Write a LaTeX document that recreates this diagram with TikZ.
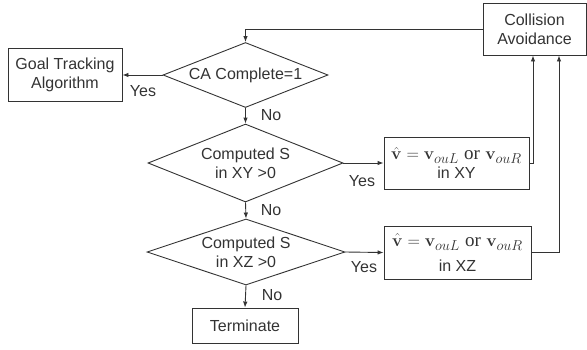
\documentclass[tikz,border=0pt]{standalone}
\usepackage[no-math]{fontspec}
\setmainfont{Liberation Sans}
\newfontfamily\orfont{Liberation Serif}
\usetikzlibrary{shapes.geometric,arrows.meta}
\definecolor{ink}{HTML}{333333}
\newcommand{\vsel}{{\fontsize{19}{21}\selectfont$\hat{\mathbf v}=\mathbf v_{ouL}$\ {\orfont or}\ $\mathbf v_{ouR}$}}

\begin{document}
\begin{tikzpicture}[x=1pt,y=-1pt,
    font=\fontsize{16}{19}\selectfont, color=ink, line width=0.9pt,
    box/.style={draw,rectangle,align=center,inner sep=0pt},
    decision/.style={draw,diamond,align=center,inner sep=0pt},
    lbl/.style={inner sep=0pt},
    >={Latex[length=6pt,width=4.5pt]}]
  \useasboundingbox (0,0) rectangle (587,349);
  \draw
    (534.5,29) node[box,minimum width=103pt,minimum height=52pt] (ca){Collision\\Avoidance}
    (245.5,75) node[decision,shape aspect=2.54,minimum width=165pt,minimum height=65pt] (d1){CA Complete=1}
    (65,74.5) node[box,minimum width=114pt,minimum height=53pt] (goal){Goal Tracking\\Algorithm}
    (245.5,163) node[decision,shape aspect=2.5,minimum width=195pt,minimum height=78pt] (d2){Computed S\\in XY >0}
    (456.5,163) node[box,minimum width=145pt,minimum height=52pt] (xy){\vsel\\in XY}
    (246,252) node[decision,shape aspect=3,minimum width=198pt,minimum height=66pt] (d3){Computed S\\in XZ >0}
    (457.5,252.5) node[box,minimum width=147pt,minimum height=53pt] (xz){\vsel\\[6pt]in XZ}
    (245,325.5) node[box,minimum width=106pt,minimum height=35pt] (term){Terminate};
  \draw
    (143,91) node[lbl] (yes1){Yes}
    (271,115) node[lbl] (no1){No}
    (362,181) node[lbl] (yes2){Yes}
    (271,210) node[lbl] (no2){No}
    (364,267) node[lbl] (yes3){Yes}
    (272,295) node[lbl] (no3){No};
  \begin{scope}[->]
    \draw (ca.west) -| (d1.north);
    \draw (d1.west) -- (d1.west -| goal.east);
    \draw (d1.south) -- (d2.north);
    \draw (d2.east) -- (xy.west);
    \draw (d2.south) -- (d3.north);
    \draw (d3.east) -- (xz.west);
    \draw (d3.south) -- (term.north);
    \draw (xy.east) -| ([xshift=-1.5pt]ca.south);
    \draw (xz.east) -| ([xshift=24.5pt]ca.south);
  \end{scope}
\end{tikzpicture}
\end{document}
